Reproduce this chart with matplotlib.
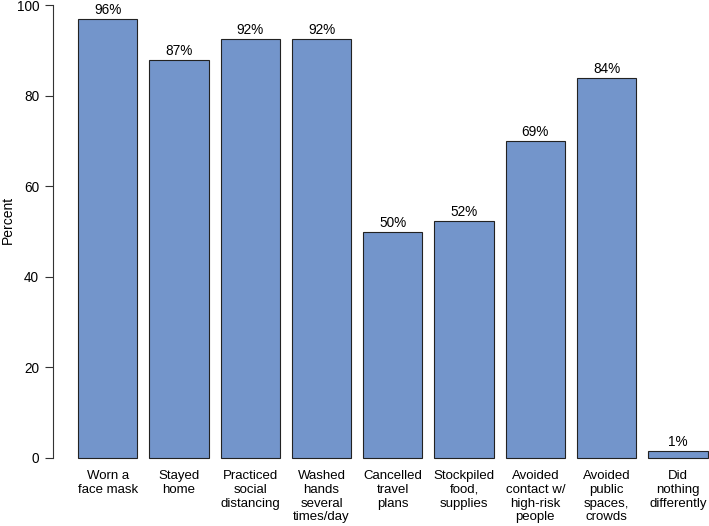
import matplotlib
matplotlib.use("Agg")
import matplotlib.pyplot as plt

plt.rcParams['font.family'] = ['Liberation Sans', 'DejaVu Sans']

categories = ["Worn a\nface mask", "Stayed\nhome", "Practiced\nsocial\ndistancing",
              "Washed\nhands\nseveral\ntimes/day", "Cancelled\ntravel\nplans",
              "Stockpiled\nfood,\nsupplies", "Avoided\ncontact w/\nhigh-risk\npeople",
              "Avoided\npublic\nspaces,\ncrowds", "Did\nnothing\ndifferently"]
values = [96.9, 87.8, 92.5, 92.5, 49.8, 52.4, 69.9, 83.8, 1.5]
value_labels = ["96%", "87%", "92%", "92%", "50%", "52%", "69%", "84%", "1%"]
yticks = [0, 20, 40, 60, 80, 100]

W, H = 709, 526
fig = plt.figure(figsize=(W / 100, H / 100), dpi=100)
ax = fig.add_axes([0.0745, 0.0949, 0.959, 0.930])

xs = [0.7 + 1.2 * i for i in range(len(values))]
ax.bar(xs, values, width=1.0, color="#7395CB", edgecolor="#222222", linewidth=0.8)

ax.set_xlim(-0.224, 11.224)
ax.set_ylim(-4, 104)

for sp in ["top", "right", "bottom"]:
    ax.spines[sp].set_visible(False)
ax.spines["left"].set_bounds(0, 100)
ax.spines["left"].set_color("#333333")
ax.spines["left"].set_linewidth(0.8)
ax.set_xticks([])
ax.set_yticks(yticks)
ax.set_yticklabels([str(t) for t in yticks])
ax.tick_params(axis="y", length=5.8, width=0.8, color="#333333", pad=4, labelsize=9.8)

fig.text(8 / W, 1 - 220 / H, "Percent", rotation=90, ha="center", va="center", fontsize=10)

for x, v, lab in zip(xs, values, value_labels):
    ax.annotate(lab, xy=(x, v), xytext=(0, 1.5), textcoords="offset points",
                ha="center", va="bottom", fontsize=9.8)

for x, c in zip(xs, categories):
    ax.annotate(c, xy=(x, 0), xycoords="data", xytext=(0, -9), textcoords="offset points",
                ha="center", va="top", fontsize=9.5, linespacing=1.17, annotation_clip=False)

fig.savefig("out.png", dpi=100)
